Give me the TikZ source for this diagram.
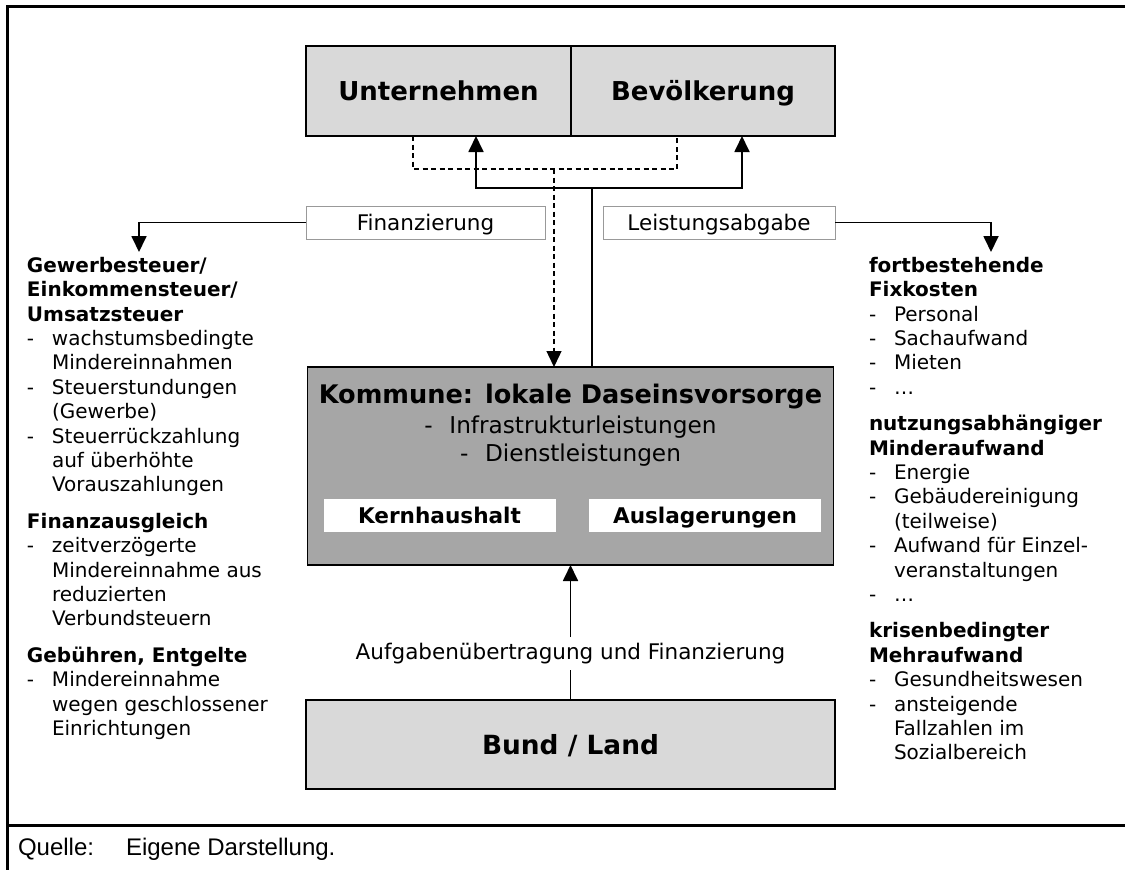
\documentclass[tikz,border=0pt]{standalone}
\usepackage{fontspec}
\setmainfont{DejaVu Sans}
\newfontfamily\quellefont{Liberation Sans}
\usetikzlibrary{positioning,arrows.meta}

\definecolor{boxgray}{HTML}{D9D9D9}
\definecolor{kommgray}{HTML}{A6A6A6}
\definecolor{labelframe}{HTML}{999999}

\newcommand{\li}[1]{\makebox[25pt][l]{-}#1}
\newcommand{\lc}[1]{\hspace*{25pt}#1}

\begin{document}
\begin{tikzpicture}[x=1pt,y=-1pt,
  every node/.style={inner sep=0pt,outer sep=0pt},
  topbox/.style={draw=black,line width=1.5pt,fill=boxgray,minimum height=90pt,text height=19pt,text depth=0pt,font=\fontsize{26}{30}\selectfont\bfseries},
  kommbox/.style={draw=black,line width=1.5pt,fill=kommgray},
  whitebox/.style={fill=white,minimum height=33pt,text height=15.7pt,text depth=0pt,font=\fontsize{21.6}{26}\selectfont\bfseries},
  labelbox/.style={draw=labelframe,line width=1pt,fill=white,minimum height=33pt,text height=15.7pt,text depth=0pt,font=\fontsize{21.5}{26}\selectfont},
  sidetext/.style={align=left,anchor=north west,font=\fontsize{20}{24.4}\selectfont},
  conn/.style={line width=1.8pt},
  dashline/.style={line width=1.4pt,dash pattern=on 5pt off 3.5pt},
  arr/.style={-{Triangle[length=16pt,width=15pt]}},
  frame/.style={line width=3pt}]
\useasboundingbox (0,0) rectangle (1125,870);

% Rahmen
\draw[frame] (7.5,870) -- (7.5,6.5) -- (1125,6.5);
\draw[frame] (7.5,825) -- (1125,825);

% Kaesten
\node[topbox,minimum width=265pt] (untern) at (438.5,91) {Unternehmen};
\node[topbox,minimum width=264pt,right=0pt of untern] (bevoelk) {Bevölkerung};
\node[kommbox,minimum width=526pt,minimum height=198pt] (kommune) at (570.5,466) {};
\node[font=\fontsize{25.6}{30}\selectfont\bfseries] (komtitel) at (570.5,397) {Kommune: lokale Daseinsvorsorge};
\node[align=center,font=\fontsize{23.2}{28.5}\selectfont] (kominfo) at (570.5,441) {\li{Infrastrukturleistungen}\\\li{Dienstleistungen}};
\node[whitebox,minimum width=232pt] (kern) at (439.5,515.5) {Kernhaushalt};
\node[whitebox,minimum width=232pt] (ausl) at (705,515.5) {Auslagerungen};
\node[topbox,minimum width=529pt,minimum height=89pt,font=\fontsize{26.4}{30}\selectfont\bfseries] (bund) at (570.5,744.5) {Bund / Land};

\node[labelbox,minimum width=239pt] (finanz) at (425.5,222.5) {Finanzierung};
\node[labelbox,minimum width=232pt] (leistung) at (719,222.5) {Leistungsabgabe};
\node[minimum height=33pt,font=\fontsize{21.5}{26}\selectfont] (aufgabe) at (570.5,653.5) {Aufgabenübertragung und Finanzierung};

% Verbindungen
\coordinate (knot) at (592,188);
\coordinate (dknot) at (554,169);
\coordinate (finziel) at (139,252);
\coordinate (leiziel) at (991,252);
\draw[conn] (kommune.north -| knot) -- (knot);
\draw[conn,arr] (knot) -| ([xshift=37.5pt]untern.south);
\draw[conn,arr] (knot) -| ([xshift=39pt]bevoelk.south);
\draw[dashline] ([xshift=-25.5pt]untern.south) |- (dknot) -| ([xshift=-26pt]bevoelk.south);
\draw[dashline,arr] (dknot) -- (dknot |- kommune.north);
\draw[conn,arr] (finanz.west) -| (finziel);
\draw[conn,arr] (leistung.east) -| (leiziel);
\draw[conn] (bund.north) -- (aufgabe.south);
\draw[conn,arr] (aufgabe.north) -- (kommune.south);

% Spalten
\node[sidetext] (links) at (27,257) {%
\textbf{Gewerbesteuer/}\\
\textbf{Einkommensteuer/}\\
\textbf{Umsatzsteuer}\\
\li{wachstumsbedingte}\\
\lc{Mindereinnahmen}\\
\li{Steuerstundungen}\\
\lc{(Gewerbe)}\\
\li{Steuerrückzahlung}\\
\lc{auf überhöhte}\\
\lc{Vorauszahlungen}\\[12pt]
\textbf{Finanzausgleich}\\
\li{zeitverzögerte}\\
\lc{Mindereinnahme aus}\\
\lc{reduzierten}\\
\lc{Verbundsteuern}\\[12pt]
\textbf{Gebühren, Entgelte}\\
\li{Mindereinnahme}\\
\lc{wegen geschlossener}\\
\lc{Einrichtungen}};
\node[sidetext] (rechts) at (869,257) {%
\textbf{fortbestehende}\\
\textbf{Fixkosten}\\
\li{Personal}\\
\li{Sachaufwand}\\
\li{Mieten}\\
\li{…}\\[12pt]
\textbf{nutzungsabhängiger}\\
\textbf{Minderaufwand}\\
\li{Energie}\\
\li{Gebäudereinigung}\\
\lc{(teilweise)}\\
\li{Aufwand für Einzel-}\\
\lc{veranstaltungen}\\
\li{…}\\[12pt]
\textbf{krisenbedingter}\\
\textbf{Mehraufwand}\\
\li{Gesundheitswesen}\\
\li{ansteigende}\\
\lc{Fallzahlen im}\\
\lc{Sozialbereich}};

% Quelle
\node[anchor=base west,font=\quellefont\fontsize{24}{28}\selectfont] (quelle) at (18,855.5) {Quelle:};
\node[anchor=base west,font=\quellefont\fontsize{24}{28}\selectfont] (quelletext) at (126,855.5) {Eigene Darstellung.};
\end{tikzpicture}
\end{document}
